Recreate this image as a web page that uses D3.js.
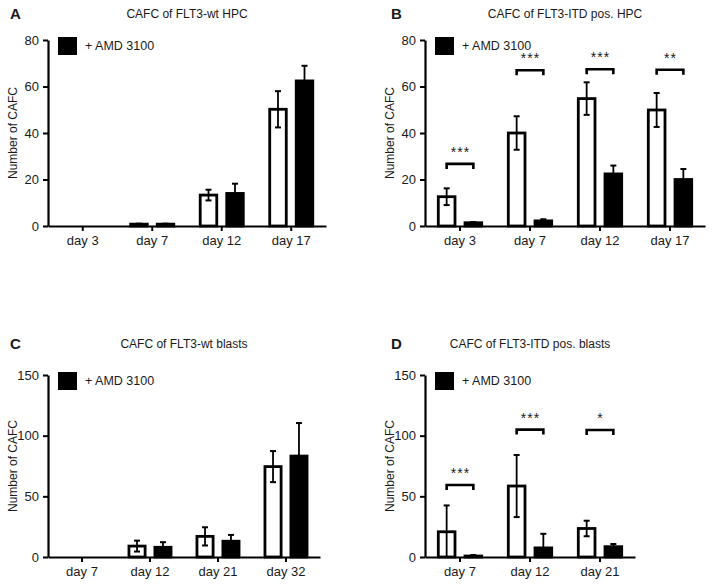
<!DOCTYPE html>
<html>
<head>
<meta charset="utf-8">
<script src="https://cdn.jsdelivr.net/npm/d3@7"></script>
<style>
  html, body { margin: 0; padding: 0; background: #fff; }
  svg { display: block; }
  text { font-family: Arial, "Liberation Sans", Helvetica, sans-serif; fill: #1a1a1a; }
</style>
</head>
<body>
<svg id="chart" width="714" height="588"></svg>
<script>
// ---------- data ----------
const seriesNames = ["control", "+ AMD 3100"];

// Panel A
const daysA = ["day 3", "day 7", "day 12", "day 17"];
const ctrlA = [0, 0.8, 13.3, 50.2];
const ctrlErrA = [0, 0.2, 2.3, 7.8];
const amdA = [0, 0.8, 14.0, 62.4];
const amdErrA = [0, 0.2, 4.2, 6.5];

// Panel B
const daysB = ["day 3", "day 7", "day 12", "day 17"];
const ctrlB = [12.6, 40.0, 54.8, 49.9];
const ctrlErrB = [3.6, 7.2, 7.0, 7.3];
const amdB = [1.4, 2.2, 22.4, 20.0];
const amdErrB = [0.3, 0.7, 3.6, 4.5];
const brackB = [26.7, 67, 67.4, 67.2];
const starsB = ["***", "***", "***", "**"];

// Panel C
const daysC = ["day 7", "day 12", "day 21", "day 32"];
const ctrlC = [0, 9.0, 17.0, 74.5];
const ctrlErrC = [0, 4.5, 7.5, 12.8];
const amdC = [0, 8.0, 13.0, 83.2];
const amdErrC = [0, 4.2, 5.2, 27.2];

// Panel D
const daysD = ["day 7", "day 12", "day 21"];
const ctrlD = [20.8, 58.5, 23.5];
const ctrlErrD = [21.7, 25.6, 6.4];
const amdD = [0.8, 7.5, 8.5];
const amdErrD = [0.8, 11.6, 2.2];
const brackD = [59.3, 105, 104.7];
const starsD = ["***", "***", "*"];

const yTicksAB = [0, 20, 40, 60, 80];
const yTicksCD = [0, 50, 100, 150];

// ---------- drawing ----------
const svg = d3.select("#chart");

function panel(cfg) {
  const g = svg.append("g");
  const x = d3.scaleBand().domain(cfg.days).range([cfg.x0, cfg.x1]).padding(0);
  const y = d3.scaleLinear().domain([0, cfg.ymax]).range([cfg.yBot, cfg.yTop]);
  const bw = x.bandwidth();
  const inner = d3.scaleBand().domain(seriesNames)
    .range([-0.33 * bw, 0.33 * bw]).paddingInner(0.27);
  const sw = 2.8;

  // panel letter + title
  g.append("text").attr("x", cfg.letterX).attr("y", cfg.titleY)
    .attr("font-size", 15).attr("font-weight", "bold").text(cfg.letter);
  g.append("text").attr("x", (cfg.x0 + cfg.x1) / 2).attr("y", cfg.titleY - 1)
    .attr("text-anchor", "middle").attr("font-size", 12).text(cfg.title);

  // y label
  g.append("text")
    .attr("transform", `translate(${cfg.x0 - 31},${(cfg.yTop + cfg.yBot) / 2}) rotate(-90)`)
    .attr("text-anchor", "middle").attr("font-size", 12).text("Number of CAFC");

  const rows = cfg.days.map((d, i) => ({
    day: d, i,
    vals: [
      { s: seriesNames[0], v: cfg.ctrl[i], e: cfg.ctrlErr[i] },
      { s: seriesNames[1], v: cfg.amd[i], e: cfg.amdErr[i] }
    ]
  }));

  // bars
  rows.forEach(r => {
    const c = x(r.day) + bw / 2;
    r.vals.forEach(o => {
      const bx = c + inner(o.s);
      const w = inner.bandwidth();
      const top = y(o.v);
      g.append("rect")
        .attr("x", bx + sw / 2).attr("y", top)
        .attr("width", w - sw).attr("height", Math.max(0.001, y(0) - top))
        .attr("fill", o.s === seriesNames[0] ? "#fff" : "#000")
        .attr("stroke", o.v > 0 ? "#000" : "none").attr("stroke-width", sw);
      if (o.e > 0) {
        const cx = bx + w / 2;
        const y1 = y(o.v + o.e), y2 = y(Math.max(0, o.v - o.e));
        g.append("line").attr("x1", cx).attr("x2", cx).attr("y1", y1).attr("y2", y2)
          .attr("stroke", "#000").attr("stroke-width", 1.8);
        [y1, y2].forEach(yy => g.append("line")
          .attr("x1", cx - 3).attr("x2", cx + 3).attr("y1", yy).attr("y2", yy)
          .attr("stroke", "#000").attr("stroke-width", 2));
      }
    });
  });

  // brackets & stars
  if (cfg.brack) {
    rows.forEach(r => {
      const c = x(r.day) + bw / 2;
      const xa = c + inner(seriesNames[0]) + inner.bandwidth() / 2;
      const xb = c + inner(seriesNames[1]) + inner.bandwidth() / 2;
      const yb = y(cfg.brack[r.i]);
      g.append("path")
        .attr("d", `M${xa},${yb + 5}V${yb}H${xb}V${yb + 5}`)
        .attr("fill", "none").attr("stroke", "#000").attr("stroke-width", 2.6);
      g.append("text").attr("x", (xa + xb) / 2 + 0.5).attr("y", yb - 7)
        .attr("text-anchor", "middle").attr("font-size", 14)
        .attr("letter-spacing", 1).text(cfg.stars[r.i]);
    });
  }

  // axes
  const ya = g.append("g").attr("transform", `translate(${cfg.x0},0)`)
    .call(d3.axisLeft(y).tickValues(cfg.yTicks).tickSize(5).tickSizeOuter(0).tickPadding(4));
  const xa = g.append("g").attr("transform", `translate(0,${cfg.yBot})`)
    .call(d3.axisBottom(x).tickSize(5).tickSizeOuter(0).tickPadding(5));
  [ya, xa].forEach(a => {
    a.select(".domain").attr("stroke", "#000").attr("stroke-width", 2.2);
    a.selectAll(".tick line").attr("stroke", "#000").attr("stroke-width", 2);
    a.selectAll(".tick text").attr("font-size", 13).attr("fill", "#1a1a1a")
      .attr("font-family", "Arial, 'Liberation Sans', Helvetica, sans-serif");
  });

  // legend
  g.append("rect").attr("x", cfg.x0 + 10).attr("y", cfg.yTop - 3)
    .attr("width", 19).attr("height", 18).attr("fill", "#000");
  g.append("text").attr("x", cfg.x0 + 37).attr("y", cfg.yTop + 10)
    .attr("font-size", 12.5).text(seriesNames[1]);
}

panel({ letter: "A", title: "CAFC of FLT3-wt HPC", letterX: 10, titleY: 19,
  days: daysA, ctrl: ctrlA, ctrlErr: ctrlErrA, amd: amdA, amdErr: amdErrA,
  x0: 48, x1: 326, yTop: 40, yBot: 226, ymax: 80, yTicks: yTicksAB });

panel({ letter: "B", title: "CAFC of FLT3-ITD pos. HPC", letterX: 391, titleY: 19,
  days: daysB, ctrl: ctrlB, ctrlErr: ctrlErrB, amd: amdB, amdErr: amdErrB,
  brack: brackB, stars: starsB,
  x0: 425, x1: 705, yTop: 40, yBot: 226, ymax: 80, yTicks: yTicksAB });

panel({ letter: "C", title: "CAFC of FLT3-wt blasts", letterX: 10, titleY: 349,
  days: daysC, ctrl: ctrlC, ctrlErr: ctrlErrC, amd: amdC, amdErr: amdErrC,
  x0: 48, x1: 320, yTop: 375, yBot: 557, ymax: 150, yTicks: yTicksCD });

panel({ letter: "D", title: "CAFC of FLT3-ITD pos. blasts", letterX: 391, titleY: 349,
  days: daysD, ctrl: ctrlD, ctrlErr: ctrlErrD, amd: amdD, amdErr: amdErrD,
  brack: brackD, stars: starsD,
  x0: 425, x1: 635, yTop: 375, yBot: 557, ymax: 150, yTicks: yTicksCD });
</script>
</body>
</html>
